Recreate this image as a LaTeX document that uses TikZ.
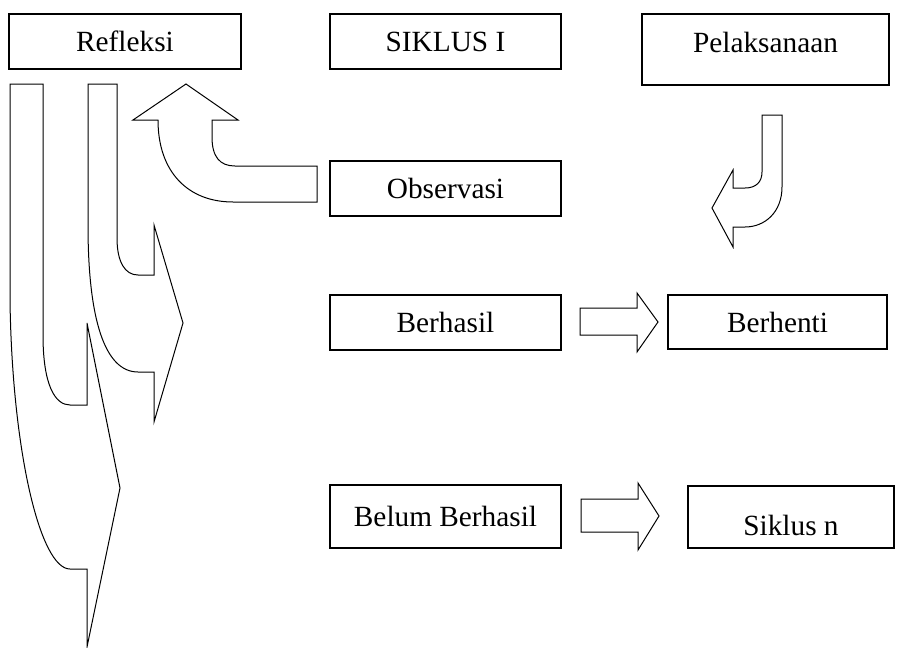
\documentclass[tikz,border=0pt]{standalone}
\usepackage{fontspec}
\setmainfont{Liberation Serif}
\usepackage{tikz}
\usetikzlibrary{positioning,calc}

\tikzset{
  box/.style={draw, line width=1.2pt, inner sep=0pt, font=\fontsize{29.3}{34}\selectfont},
  blockarrow/.style={draw, line width=1pt, line join=miter, fill=white}
}

\begin{document}
\begin{tikzpicture}[x=1pt,y=-1pt]
    \useasboundingbox (0,0) rectangle (906,648);

    % Boxes, top row
    \node[box, minimum width=232pt, minimum height=55pt] (refleksi) at (125,41.5) {Refleksi};
    \node[box, minimum width=231pt, minimum height=55pt] (siklusI) at (445.5,41.5) {SIKLUS I};
    \node[box, minimum width=247pt, minimum height=71pt, text depth=14pt] (pelaksanaan) at (765.5,49.5) {Pelaksanaan};

    % Boxes, middle column
    \node[box, minimum width=231pt, minimum height=55pt] (observasi) at (445.5,188.5) {Observasi};
    \node[box, minimum width=231pt, minimum height=55pt] (berhasil) at (445.5,322.5) {Berhasil};
    \node[box, minimum width=231pt, minimum height=63pt] (belum) at (445.5,516.5) {Belum Berhasil};

    % Boxes, right column
    \node[box, minimum width=219pt, minimum height=54pt] (berhenti) at (777.5,322) {Berhenti};
    \node[box, minimum width=206pt, minimum height=62pt, text height=37pt] (siklusN) at (791,517) {Siklus n};

    % Pelaksanaan -> Observasi (bent arrow)
    \draw[blockarrow] (762,115) -- (782,115) -- (782,187)
        .. controls (782,212) and (765,227) .. (745,227) -- (733,227) -- (733,247)
        -- (712,208) -- (733,170) -- (733,188) -- (745,188)
        .. controls (756,188) and (762,182) .. (762,172) -- cycle;

    % Observasi -> Refleksi (bent arrow)
    \draw[blockarrow] (317,166) -- (317,202) -- (233,202)
        .. controls (188,202) and (158,172) .. (158,120) -- (133,120)
        -- (186,84) -- (238,120) -- (212,120) -- (212,137)
        .. controls (212,157) and (220,166) .. (235,166) -- cycle;

    % Refleksi -> Berhasil
    \draw[blockarrow] (88,84) -- (117,84) -- (117,238)
        .. controls (117,262) and (125,275) .. (138,275) -- (154,275) -- (154,225)
        -- (183,323) -- (154,422) -- (154,372) -- (138,372)
        .. controls (105,372) and (88,320) .. (88,225) -- cycle;

    % Refleksi -> Belum Berhasil
    \draw[blockarrow] (10,84) -- (43,84) -- (43,335)
        .. controls (43,385) and (55,405) .. (70,405) -- (87,405) -- (87,323)
        -- (120,488) -- (87,647) -- (87,569) -- (70,569)
        .. controls (40,569) and (12,450) .. (10,300) -- cycle;

    % Berhasil -> Berhenti
    \draw[blockarrow] (580,308) -- (637,308) -- (637,293) -- (658,322)
        -- (637,352) -- (637,335) -- (580,335) -- cycle;

    % Belum Berhasil -> Siklus n
    \draw[blockarrow] (581,499) -- (638,499) -- (638,483) -- (659,516)
        -- (638,550) -- (638,532) -- (581,532) -- cycle;

\end{tikzpicture}
\end{document}
